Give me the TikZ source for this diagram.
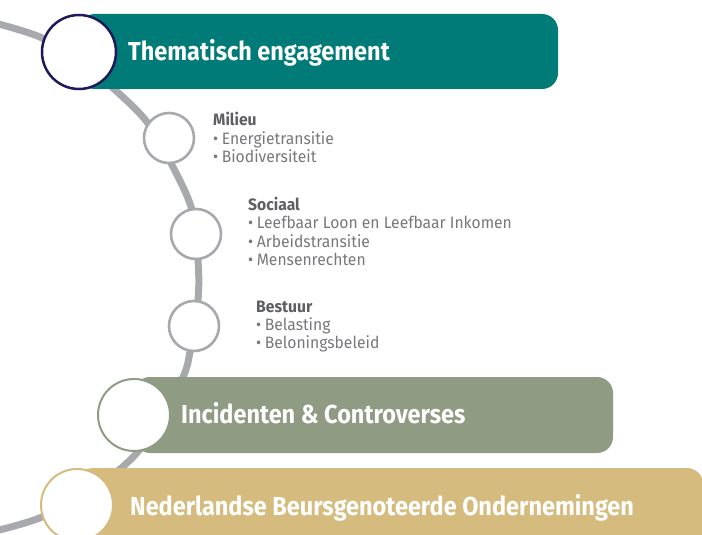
\documentclass[tikz,border=0pt]{standalone}
\usepackage{fontspec}
\setmainfont{Fira Sans}[FakeStretch=0.95]
\newfontfamily\headfont{Fira Sans}[FakeStretch=0.903]
\definecolor{teal1}{HTML}{007B77}
\definecolor{sage}{HTML}{8F9B83}
\definecolor{gold}{HTML}{D5BC7E}
\definecolor{navy}{HTML}{1D1A5C}
\definecolor{arcgray}{HTML}{A7A9AC}
\definecolor{txtgray}{HTML}{77787B}
\definecolor{hdgray}{HTML}{5E5F62}
\newcommand{\bul}{•\hspace{3.5pt}}
\tikzset{
  bar/.style={rounded corners=16pt},
  bigcirc/.style={circle, fill=white, line width=2.5pt, minimum size=74pt, inner sep=0pt},
  smallcirc/.style={circle, fill=white, draw=arcgray, line width=2.6pt, minimum size=50pt, inner sep=0pt},
  headtxt/.style={anchor=base west, inner sep=0pt, text=white, font=\headfont\bfseries\fontsize{26}{30}\selectfont},
  subhead/.style={anchor=base west, inner sep=0pt, text=hdgray, font=\bfseries\fontsize{16.5}{18}\selectfont},
  item/.style={anchor=base west, inner sep=0pt, text=txtgray, font=\fontsize{16.5}{18}\selectfont},
}
\begin{document}
\begin{tikzpicture}[x=1pt,y=-1pt]
\useasboundingbox (0,0) rectangle (702,535);
\clip (0,0) rectangle (702,535);
% arc
\draw[arcgray, line width=7pt] plot[smooth, tension=0.55] coordinates {
 (-5,23) (40,37) (80,60) (113,88) (147,122) (172,165) (192,210) (198,260)
 (198,300) (190,352) (183,377) (160,418) (135,455) (95,488) (42,517) (-5,531)};
% bars
\fill[teal1, bar] (79,14) rectangle (558,89);
\fill[sage, bar] (134,377) rectangle (613,453);
\fill[gold, bar] (77,468) rectangle (703,560);
% circles
\node[bigcirc, draw=navy] (c0) at (79,52) {};
\node[smallcirc] (cm) at (169,138) {};
\node[smallcirc] (cs) at (196,234) {};
\node[smallcirc] (cb) at (194,326) {};
\node[bigcirc, draw=sage, line width=2pt, minimum size=72pt] (ci) at (134,415) {};
\node[bigcirc, draw=gold, line width=2pt, minimum size=72pt] (cn) at (77,505) {};
% headings
\node[headtxt] (t0) at (128,61) {Thematisch engagement};
\node[headtxt] (ti) at (181,423) {Incidenten \& Controverses};
\node[headtxt] (tn) at (130,515) {Nederlandse Beursgenoteerde Ondernemingen};
% Milieu
\node[subhead] (m0) at (213,125) {Milieu};
\node[item] (m1) at (213,144) {\bul Energietransitie};
\node[item] (m2) at (213,162) {\bul Biodiversiteit};
% Sociaal
\node[subhead] (s0) at (248,210) {Sociaal};
\node[item] (s1) at (248,228) {\bul Leefbaar Loon en Leefbaar Inkomen};
\node[item] (s2) at (248,247) {\bul Arbeidstransitie};
\node[item] (s3) at (248,265) {\bul Mensenrechten};
% Bestuur
\node[subhead] (b0) at (256,312) {Bestuur};
\node[item] (b1) at (256,330) {\bul Belasting};
\node[item] (b2) at (256,348) {\bul Beloningsbeleid};
\end{tikzpicture}
\end{document}
